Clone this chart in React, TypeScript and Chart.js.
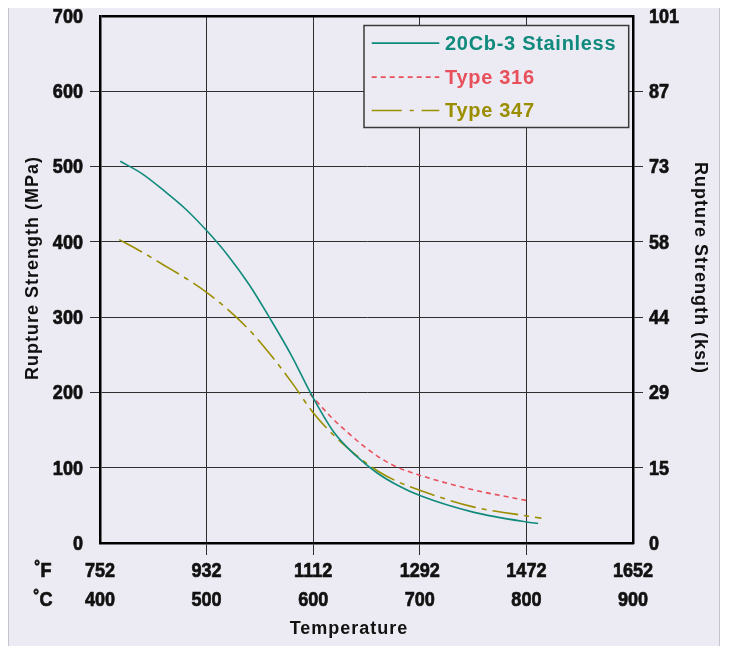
import React, { useEffect, useRef } from 'react';
import { Chart, registerables } from 'chart.js';

Chart.register(...registerables);

// ---- data ----
const tempC = [400, 500, 600, 700, 800, 900];
const tempF = ['752', '932', '1112', '1292', '1472', '1652'];
const mpaTicks = [0, 100, 200, 300, 400, 500, 600, 700];
const ksiLabels = ['0', '15', '29', '44', '58', '73', '87', '101'];

const cb3Temp = [419, 440, 460, 480, 500, 520, 540, 560, 580, 598, 620, 640, 660, 680, 700, 750, 800, 811];
const cb3MPa = [507, 490, 468, 444, 415, 382, 343, 297, 248, 198, 146, 116, 93, 76, 63, 41, 28, 26];

const t316Temp = [597, 617, 633, 649, 664, 680, 700, 749, 802];
const t316MPa = [198, 167, 146, 127, 112, 100, 90, 71, 56];

const t347Temp = [418, 440, 460, 480, 500, 520, 540, 560, 580, 600, 620, 640, 660, 680, 700, 750, 800, 814];
const t347MPa = [403, 386, 369, 352, 333, 310, 283, 250, 213, 173, 142, 117, 96, 81, 70, 48, 36, 33];

const seriesNames = ['20Cb-3 Stainless', 'Type 316', 'Type 347'];

// ---- styles ----
const BG = '#ecebf3';
const TEAL = '#0f8a7c';
const RED = '#e8505b';
const OLIVE = '#9a8e00';
const GRID = '#2e2e2e';
const SANS = "'Liberation Sans', Arial, Helvetica, sans-serif";
const TICK_FONT = `bold 21px ${SANS}`;
const TITLE_FONT = `bold 18px ${SANS}`;
const LEGEND_FONT = `bold 20px ${SANS}`;
const NARROW = 0.86;
const DASH_316 = [5, 4];
const DASH_347 = [26, 6, 5, 6];

const toPts = (xs: number[], ys: number[]) => xs.map((x, i) => ({ x, y: ys[i] }));

const narrowText = (ctx: any, text: string, x: number, y: number, align: string) => {
  ctx.save();
  ctx.translate(x, y);
  ctx.scale(NARROW, 1);
  ctx.textAlign = align;
  ctx.textBaseline = 'middle';
  ctx.fillText(text, 0, 0);
  ctx.lineWidth = 0.7;
  ctx.strokeText(text, 0, 0);
  ctx.restore();
};

const overlayPlugin = {
  id: 'overlay',
  afterDraw(chart: any) {
    const { ctx, chartArea: ca } = chart;
    const xs = chart.scales.x;
    const ys = chart.scales.y;
    ctx.save();

    // legend box
    const left = ca.right - 269;
    const top = ca.top + 9.5;
    const w = 264.7;
    const h = 102;
    ctx.fillStyle = BG;
    ctx.fillRect(left, top, w, h);
    ctx.strokeStyle = '#3a3a3a';
    ctx.lineWidth = 1.5;
    ctx.strokeRect(left, top, w, h);
    const rows = [
      { y: top + 17.6, color: TEAL, dash: [] as number[] },
      { y: top + 51.6, color: RED, dash: DASH_316 },
      { y: top + 85, color: OLIVE, dash: [30, 8, 4, 8] },
    ];
    rows.forEach((r, i) => {
      ctx.beginPath();
      ctx.setLineDash(r.dash);
      ctx.strokeStyle = r.color;
      ctx.lineWidth = 1.6;
      ctx.moveTo(left + 7.7, r.y);
      ctx.lineTo(left + 75.3, r.y);
      ctx.stroke();
      ctx.setLineDash([]);
      ctx.fillStyle = r.color;
      ctx.font = LEGEND_FONT;
      ctx.letterSpacing = '0.7px';
      ctx.textAlign = 'left';
      ctx.textBaseline = 'middle';
      ctx.fillText(seriesNames[i], left + 81, r.y + 1);
    });

    // tick labels (positions from the chart's scales)
    ctx.letterSpacing = '0px';
    ctx.fillStyle = '#111';
    ctx.strokeStyle = '#111';
    ctx.font = TICK_FONT;
    mpaTicks.forEach((v, i) => {
      const py = ys.getPixelForValue(v) + 1;
      narrowText(ctx, String(v), ca.left - 17, py, 'right');
      narrowText(ctx, ksiLabels[i], ca.right + 16, py, 'left');
    });
    tempC.forEach((v, i) => {
      const px = xs.getPixelForValue(v);
      narrowText(ctx, tempF[i], px, 571, 'center');
      narrowText(ctx, String(v), px, 600, 'center');
    });
    narrowText(ctx, '˚F', 34, 571, 'center');
    narrowText(ctx, '˚C', 34, 600, 'center');

    // axis titles
    ctx.fillStyle = '#111';
    ctx.font = TITLE_FONT;
    ctx.letterSpacing = '1px';
    ctx.textAlign = 'center';
    ctx.textBaseline = 'middle';
    ctx.fillText('Temperature', 340, 629);

    ctx.save();
    ctx.translate(24, 268);
    ctx.rotate(-Math.PI / 2);
    ctx.fillText('Rupture Strength (MPa)', 0, 0);
    ctx.restore();

    ctx.save();
    ctx.translate(691, 268);
    ctx.rotate(Math.PI / 2);
    ctx.fillText('Rupture Strength (ksi)', 0, 0);
    ctx.restore();

    ctx.letterSpacing = '0px';
    ctx.restore();
  },
};

const edgeTransparent = (vals: number[]) => (c: any) =>
  c.tick && vals.includes(c.tick.value) ? 'rgba(0,0,0,0)' : GRID;

export default function App() {
  const ref = useRef<HTMLCanvasElement | null>(null);

  useEffect(() => {
    if (!ref.current) return;
    const chart = new Chart(ref.current, {
      type: 'line',
      data: {
        datasets: [
          {
            label: seriesNames[0],
            data: toPts(cb3Temp, cb3MPa),
            borderColor: TEAL,
            borderWidth: 1.6,
            pointRadius: 0,
            cubicInterpolationMode: 'monotone',
            fill: false,
          },
          {
            label: seriesNames[1],
            data: toPts(t316Temp, t316MPa),
            borderColor: RED,
            borderWidth: 1.6,
            borderDash: DASH_316,
            pointRadius: 0,
            cubicInterpolationMode: 'monotone',
            fill: false,
          },
          {
            label: seriesNames[2],
            data: toPts(t347Temp, t347MPa),
            borderColor: OLIVE,
            borderWidth: 1.6,
            borderDash: DASH_347,
            pointRadius: 0,
            cubicInterpolationMode: 'monotone',
            fill: false,
          },
        ],
      },
      options: {
        animation: false,
        responsive: false,
        maintainAspectRatio: false,
        layout: { padding: { top: 16, left: 0, right: 0, bottom: 0 } },
        plugins: { legend: { display: false }, tooltip: { enabled: false } },
        scales: {
          x: {
            type: 'linear',
            position: 'bottom',
            min: tempC[0],
            max: tempC[tempC.length - 1],
            afterBuildTicks: (s: any) => {
              s.ticks = tempC.map((v) => ({ value: v }));
            },
            ticks: { display: false },
            grid: {
              color: edgeTransparent([400, 900]),
              tickColor: edgeTransparent([400, 900]),
              lineWidth: 1,
              tickLength: 12,
              drawTicks: true,
            },
            border: { display: true, color: '#000', width: 2.5 },
            afterFit: (s: any) => {
              s.height = 103;
            },
          },
          y: {
            position: 'left',
            min: 0,
            max: 700,
            afterBuildTicks: (s: any) => {
              s.ticks = mpaTicks.map((v) => ({ value: v }));
            },
            ticks: { display: false },
            grid: {
              color: (c: any) => {
                const v = c.tick && c.tick.value;
                if (v === 0) return 'rgba(0,0,0,0)';
                if (v === 700) return '#000';
                return GRID;
              },
              lineWidth: (c: any) => (c.tick && c.tick.value === 700 ? 2.5 : 1),
              tickColor: edgeTransparent([0, 700]),
              tickLength: 10,
              drawTicks: true,
            },
            border: { display: true, color: '#000', width: 2.5 },
            afterFit: (s: any) => {
              s.width = 91;
            },
          },
          y2: {
            position: 'right',
            min: 0,
            max: 700,
            afterBuildTicks: (s: any) => {
              s.ticks = mpaTicks.map((v) => ({ value: v }));
            },
            ticks: { display: false },
            grid: {
              drawOnChartArea: false,
              drawTicks: true,
              tickLength: 10,
              color: GRID,
              tickColor: edgeTransparent([0, 700]),
            },
            border: { display: true, color: '#000', width: 2.5 },
            afterFit: (s: any) => {
              s.width = 86;
            },
          },
        },
      },
      plugins: [overlayPlugin],
    } as any);
    return () => chart.destroy();
  }, []);

  return (
    <div
      style={{
        marginTop: -8,
        width: 710,
        height: 646,
        background: BG,
        borderLeft: '1px solid #c4c4ca',
        borderRight: '1px solid #c4c4ca',
        overflow: 'hidden',
      }}
    >
      <canvas ref={ref} width={710} height={646} style={{ display: 'block' }} />
    </div>
  );
}
